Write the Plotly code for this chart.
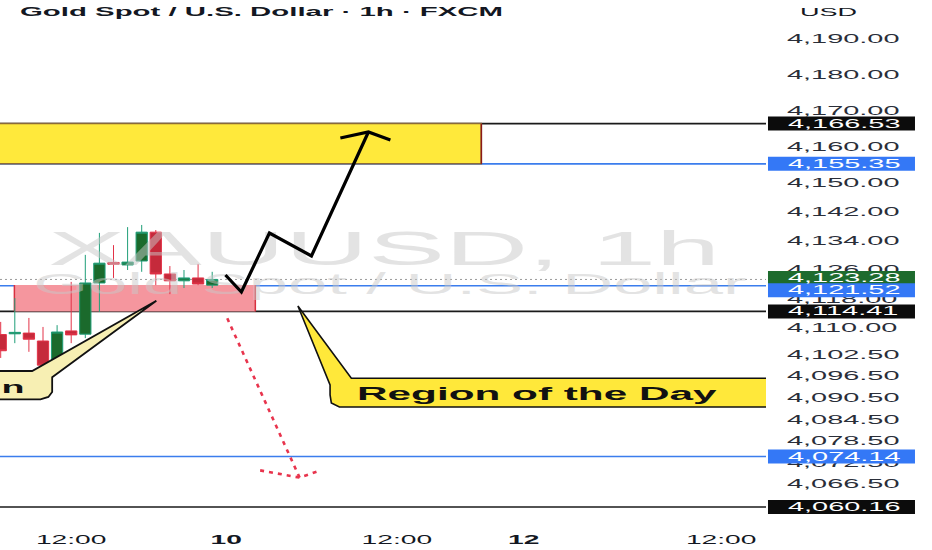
import plotly.graph_objects as go

# ---------------- data ----------------
bar_idx = list(range(16))
opens  = [4108.0, 4108.2, 4108.4, 4106.2, 4099.5, 4109.0, 4108.1, 4122.3, 4128.0, 4127.3, 4128.4, 4136.4, 4124.8, 4122.9, 4123.7, 4121.7]
highs  = [4111.5, 4118.1, 4112.6, 4110.1, 4110.6, 4122.6, 4130.1, 4136.2, 4132.8, 4137.8, 4138.4, 4137.0, 4127.0, 4125.9, 4127.6, 4125.4]
lows   = [4101.5, 4105.6, 4103.2, 4094.0, 4098.2, 4105.6, 4107.0, 4114.3, 4123.7, 4125.9, 4125.4, 4121.7, 4119.2, 4120.9, 4121.7, 4120.9]
closes = [4103.5, 4108.6, 4106.7, 4099.5, 4108.7, 4107.9, 4122.3, 4127.8, 4127.5, 4128.1, 4136.4, 4124.8, 4122.9, 4123.7, 4122.0, 4123.28]

x_tick_vals = [5, 16, 28.1, 37.1, 51.1]
x_tick_text = ["12:00", "<b>10</b>", "12:00", "<b>12</b>", "12:00"]

y_tick_vals = [4190.00, 4180.00, 4170.00, 4160.00, 4150.00, 4142.00, 4134.00, 4126.00, 4118.00,
               4110.00, 4102.50, 4096.50, 4090.50, 4084.50, 4078.50, 4072.50, 4066.50]
y_tick_text = [f"{v:,.2f}" for v in y_tick_vals]

# price levels (value, colour of line/label)
level_vals   = [4166.53, 4155.35, 4121.52, 4114.41, 4074.14, 4060.16]
level_colors = ["#1a1a1a", "#3b7ded", "#3b7ded", "#1a1a1a", "#3b7ded", "#1a1a1a"]
label_vals   = [4166.53, 4155.35, 4123.28, 4121.52, 4114.41, 4074.14, 4060.16]
label_colors = ["#0c0c0c", "#3478f6", "#1e6b2e", "#3478f6", "#0c0c0c", "#3478f6", "#0c0c0c"]
label_shift  = [0, 0, 1.5, -4.5, 0, 0, 0]   # pixel nudge of axis labels (avoid overlap, as on the chart)
last_price = 4123.28

# zones
supply_zone = dict(x0=-5, x1=34.09, y0=4155.35, y1=4166.53)
region_zone = dict(x0=0.97, x1=18.06, y0=4114.41, y1=4121.74)

# drawn arrows
zig_x = [15.94, 17.07, 19.06, 22.04, 26.08]
zig_y = [4124.52, 4119.80, 4136.17, 4129.79, 4164.20]
zig_head_x = [24.09, 26.08, 27.64]
zig_head_y = [4162.53, 4164.20, 4161.98]
drop_x = [16.07, 21.2]
drop_y = [4112.5, 4068.3]
drop_head_x = [18.4, 21.2, 22.67]
drop_head_y = [4070.3, 4068.3, 4070.3]

# callouts
callout_r_x = [21.08, 24.87, 56.7, 56.7, 24.02, 23.45, 23.36, 23.36]
callout_r_y = [4115.92, 4095.85, 4095.85, 4087.89, 4087.89, 4089.0, 4091.22, 4093.99]
callout_l_x = [11.04, 2.23, -2.15, -2.15, 2.82, 3.38, 3.65, 3.65]
callout_l_y = [4117.39, 4097.88, 4097.88, 4090.03, 4090.03, 4090.67, 4092.05, 4096.13]
callout_r_text = dict(x=25.15, y=4091.6, text="Region of the Day")
callout_l_text = dict(x=0.9, y=4093.4, text="n")

watermark = [dict(x=27.2, y=4130.8, text="XAUUSD, 1h", size=49),
             dict(x=27.6, y=4121.4, text="Gold Spot / U.S. Dollar", size=30)]

title_text = "Gold Spot / U.S. Dollar · 1h · FXCM"
currency = "USD"

# ---------------- figure ----------------
FONT = "Liberation Sans, Arial, sans-serif"
fig = go.Figure()

for w in watermark:
    fig.add_trace(go.Scatter(x=[w["x"]], y=[w["y"]], mode="text", text=[w["text"]],
                             textfont=dict(family=FONT, size=w["size"], color="rgba(200,200,200,0.5)"),
                             hoverinfo="skip", showlegend=False))

fig.add_trace(go.Candlestick(
    x=bar_idx, open=opens, high=highs, low=lows, close=closes,
    increasing=dict(line=dict(color="#1f9e78", width=1), fillcolor="#1b6a2c"),
    decreasing=dict(line=dict(color="#e33348", width=1), fillcolor="#c52a3b"),
    hoverinfo="skip", showlegend=False))

fig.add_trace(go.Scatter(x=drop_x, y=drop_y, mode="lines",
                         line=dict(color="#e8344d", width=2.6, dash="4px,5px"),
                         hoverinfo="skip", showlegend=False))
fig.add_trace(go.Scatter(x=drop_head_x, y=drop_head_y, mode="lines",
                         line=dict(color="#e8344d", width=2.6, dash="4px,5px"),
                         hoverinfo="skip", showlegend=False))
fig.add_trace(go.Scatter(x=zig_x, y=zig_y, mode="lines",
                         line=dict(color="#000000", width=3.2),
                         hoverinfo="skip", showlegend=False))
fig.add_trace(go.Scatter(x=zig_head_x, y=zig_head_y, mode="lines",
                         line=dict(color="#000000", width=3.2),
                         hoverinfo="skip", showlegend=False))

shapes = []
# region zone (below candles)
shapes.append(dict(type="rect", xref="x", yref="y", layer="below", line=dict(width=0),
                   fillcolor="#f5969e", **region_zone))
for xv in (region_zone["x0"], region_zone["x1"]):
    shapes.append(dict(type="line", xref="x", yref="y", layer="below", x0=xv, x1=xv,
                       y0=region_zone["y0"], y1=region_zone["y1"],
                       line=dict(color="#d8303f", width=1.5)))
# horizontal levels
for v, c in zip(level_vals, level_colors):
    shapes.append(dict(type="line", xref="paper", yref="y", layer="below", x0=0, x1=1, y0=v, y1=v,
                       line=dict(color=c, width=1.6)))
shapes.append(dict(type="line", xref="paper", yref="y", layer="below", x0=0, x1=1,
                   y0=last_price, y1=last_price, line=dict(color="#9a9a9a", width=1, dash="2px,3px")))
# supply zone (below the drawn arrow)
shapes.append(dict(type="rect", xref="x", yref="y", layer="below", fillcolor="#ffe93b",
                   line=dict(color="#8a6a3a", width=1.5), **supply_zone))
shapes.append(dict(type="line", xref="x", yref="y", layer="below", x0=supply_zone["x1"], x1=supply_zone["x1"],
                   y0=supply_zone["y0"], y1=supply_zone["y1"], line=dict(color="#8b1a1a", width=1.5)))


def poly(xs, ys):
    return "M " + " L ".join(f"{a},{b}" for a, b in zip(xs, ys)) + " Z"


shapes.append(dict(type="path", xref="x", yref="y", layer="above", path=poly(callout_r_x, callout_r_y),
                   fillcolor="#ffe83a", line=dict(color="#111111", width=1.6)))
shapes.append(dict(type="path", xref="x", yref="y", layer="above", path=poly(callout_l_x, callout_l_y),
                   fillcolor="#f7efb3", line=dict(color="#111111", width=1.8)))

# price label boxes on the axis
for v, c, s in zip(label_vals, label_colors, label_shift):
    shapes.append(dict(type="rect", xref="paper", yref="y", layer="above",
                       x0=1.0026, x1=1.1945, ysizemode="pixel", yanchor=v, y0=-7 + s, y1=7 + s,
                       fillcolor=c, line=dict(width=0)))

annotations = []
for v, s in zip(label_vals, label_shift):
    annotations.append(dict(xref="paper", yref="y", x=1.0255, y=v, yshift=s, text=f"{v:,.2f}", showarrow=False,
                            xanchor="left", align="left", font=dict(family=FONT, size=12.3, color="#ffffff")))
annotations.append(dict(xref="x", yref="y", x=callout_r_text["x"], y=callout_r_text["y"],
                        text="<b>" + callout_r_text["text"] + "</b>", showarrow=False,
                        xanchor="left", align="left", font=dict(family=FONT, size=18, color="#111111")))
annotations.append(dict(xref="x", yref="y", x=callout_l_text["x"], y=callout_l_text["y"],
                        text="<b>" + callout_l_text["text"] + "</b>", showarrow=False,
                        font=dict(family=FONT, size=16, color="#111111")))
annotations.append(dict(xref="paper", yref="paper", x=18 / 766, y=1 - 12 / 522, text="<b>" + title_text + "</b>",
                        showarrow=False, xanchor="left", align="left", yanchor="middle",
                        font=dict(family=FONT, size=12.5, color="#131722")))
annotations.append(dict(xref="paper", yref="paper", x=798 / 766, y=1 - 12 / 522, text=currency,
                        showarrow=False, xanchor="left", align="left", yanchor="middle",
                        font=dict(family=FONT, size=11.5, color="#131722")))

fig.update_layout(
    width=932, height=550, autosize=False,
    margin=dict(l=0, r=166, t=0, b=28),
    paper_bgcolor="#ffffff", plot_bgcolor="#ffffff",
    showlegend=False, shapes=shapes, annotations=annotations,
    boxgap=0.2, boxgroupgap=0,
    xaxis=dict(range=[-0.05, 54.28], showgrid=False, zeroline=False, showline=False,
               rangeslider=dict(visible=False), tickmode="array", tickvals=x_tick_vals, ticktext=x_tick_text,
               ticks="", ticklabelstandoff=9, tickfont=dict(family=FONT, size=12, color="#131722"),
               fixedrange=True),
    yaxis=dict(range=[4055.98, 4200.82], side="right", showgrid=False, zeroline=False, showline=False,
               tickmode="array", tickvals=y_tick_vals, ticktext=y_tick_text, ticks="",
               ticklabelstandoff=20, tickfont=dict(family=FONT, size=12.3, color="#2a2e39"),
               fixedrange=True),
)

stretch_js = """
document.body.style.margin = '0';
document.body.style.padding = '0';
var gd = document.getElementById('{plot_id}');
var K = 2.35;
gd.querySelectorAll('svg text').forEach(function(t){
  var s = t.textContent;
  if (!s || !s.trim()) return;
  var w = t.getComputedTextLength();
  if (w > 0) { t.setAttribute('textLength', (w * K).toFixed(2)); t.setAttribute('lengthAdjust', 'spacingAndGlyphs'); }
});
"""

fig.write_html("out.html", config={"displayModeBar": False, "staticPlot": True}, post_script=stretch_js)
